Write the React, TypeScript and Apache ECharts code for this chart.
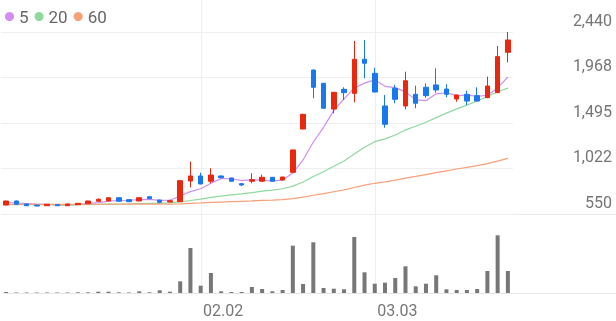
import React, { useEffect, useRef } from "react";
import * as echarts from "echarts";

const dates = [
  "01.06", "01.07", "01.08", "01.09",
  "01.12", "01.13", "01.14", "01.15", "01.16",
  "01.19", "01.20", "01.21", "01.22", "01.23",
  "01.26", "01.27", "01.28", "01.29", "01.30",
  "02.02", "02.03", "02.04", "02.05", "02.06",
  "02.09", "02.10", "02.11", "02.12", "02.13",
  "02.19", "02.20",
  "02.23", "02.24", "02.25", "02.26", "02.27",
  "03.03", "03.04", "03.05", "03.06",
  "03.09", "03.10", "03.11", "03.12", "03.13",
  "03.16", "03.17", "03.18", "03.19", "03.20",
];

const opens = [
  643, 685, 654, 643, 636, 647, 636, 647, 657, 682,
  685, 719, 699, 685, 730, 695, 675, 678, 893, 945,
  890, 945, 924, 865, 890, 890, 931, 903, 983, 1433,
  2045, 1907, 1640, 1845, 1803, 2157, 2011, 1672, 1855, 1672,
  1793, 1866, 1890, 1848, 1744, 1793, 1779, 1758, 1810, 2229,
];
const closes = [
  685, 651, 636, 633, 651, 636, 654, 661, 685, 703,
  719, 682, 678, 719, 709, 671, 688, 896, 945, 862,
  955, 927, 890, 851, 906, 931, 890, 934, 1215, 1585,
  1866, 1648, 1814, 1810, 2157, 2115, 1817, 1482, 1741, 1934,
  1700, 1779, 1838, 1793, 1786, 1723, 1723, 1879, 2184, 2357,
];
const lows = [
  640, 648, 632, 630, 633, 634, 634, 645, 655, 680,
  683, 680, 676, 683, 706, 661, 672, 676, 827, 858,
  869, 922, 887, 841, 869, 887, 887, 900, 980, 1428,
  1752, 1645, 1596, 1734, 1710, 1959, 1812, 1446, 1700, 1637,
  1648, 1758, 1810, 1762, 1716, 1682, 1720, 1754, 1806, 2125,
];
const highs = [
  688, 690, 656, 645, 654, 650, 656, 663, 688, 713,
  722, 722, 702, 722, 733, 699, 699, 899, 1093, 979,
  1025, 950, 927, 867, 973, 958, 934, 937, 1218, 1590,
  2050, 1910, 1818, 1866, 2347, 2357, 2069, 1786, 1890, 2028,
  1882, 1907, 2063, 1897, 1790, 1831, 1866, 1976, 2295, 2440,
];
const volumes = [
  100, 50, 50, 50, 50, 50, 50, 70, 70, 130,
  130, 70, 50, 170, 70, 270, 130, 1170, 4500, 730,
  2000, 170, 100, 100, 600, 400, 170, 300, 4730, 900,
  5070, 500, 430, 370, 5600, 2070, 930, 1030, 1500, 2670,
  670, 930, 1770, 370, 300, 300, 400, 2200, 5770, 2200,
];
const ma5 = [
  668, 664, 658, 652, 651, 641, 642, 647, 657, 668,
  684, 690, 693, 700, 701, 692, 693, 737, 782, 812,
  869, 917, 916, 897, 906, 901, 894, 902, 975, 1111,
  1298, 1450, 1626, 1745, 1859, 1909, 1943, 1876, 1862, 1818,
  1735, 1727, 1798, 1809, 1779, 1784, 1773, 1781, 1859, 1973,
];
const ma20 = [
  648, 648, 647, 646, 646, 645, 645, 646, 647, 649,
  652, 654, 656, 659, 661, 663, 665, 676, 690, 705,
  722, 736, 748, 759, 772, 787, 798, 812, 839, 883,
  940, 988, 1045, 1100, 1172, 1244, 1301, 1330, 1370, 1423,
  1461, 1503, 1551, 1598, 1642, 1681, 1723, 1770, 1819, 1857,
];
const ma60 = [
  650, 650, 650, 650, 650, 650, 650, 650, 651, 651,
  651, 651, 652, 652, 652, 652, 652, 656, 661, 665,
  670, 674, 678, 682, 686, 691, 695, 700, 709, 725,
  745, 762, 781, 800, 825, 850, 869, 883, 901, 923,
  940, 959, 979, 998, 1017, 1035, 1053, 1073, 1099, 1127,
];

const maNames = ["5", "20", "60"];
const yMin = 550;
const yMax = 2440;
const yInterval = 472.5;
const yTickLabels = ["550", "1,022", "1,495", "1,968", "2,440"];

const UP = "#e8290f";
const DOWN = "#1a78ee";
const MA_COLORS = ["#d18ef0", "#8fd99e", "#f7a07a"];

export default function App() {
  const ref = useRef<HTMLDivElement>(null);
  useEffect(() => {
    if (!ref.current) return;
    const chart = echarts.init(ref.current, null, { renderer: "svg" });
    const isMonthStart = (i: number) =>
      i > 0 && dates[i].slice(0, 2) !== dates[i - 1].slice(0, 2);
    const candleData = dates.map((_, i) => [opens[i], closes[i], lows[i], highs[i]]);
    const maData = [ma5, ma20, ma60];
    const hiddenCat = {
      type: "category",
      data: dates,
      axisLine: { show: false },
      axisTick: { show: false },
      axisLabel: { show: false },
      splitLine: { show: false },
    };
    const option: any = {
      animation: false,
      textStyle: { fontFamily: "Roboto" },
      legend: {
        left: 0,
        top: 3,
        icon: "circle",
        itemWidth: 9,
        itemHeight: 9,
        itemGap: 6,
        selectedMode: false,
        data: maNames,
        textStyle: { fontSize: 17, color: "#666", fontFamily: "Roboto" },
      },
      grid: [
        { left: 1, right: 103, top: 32, height: 182 },
        { left: 1, right: 103, top: 215, height: 78 },
        { left: 6.1, right: 107.4, top: 0, height: 293 },
      ],
      xAxis: [
        { ...hiddenCat, gridIndex: 0 },
        { ...hiddenCat, gridIndex: 1 },
        {
          type: "category",
          gridIndex: 2,
          data: dates,
          boundaryGap: false,
          axisLine: { show: false },
          axisTick: { show: false },
          axisLabel: {
            interval: (i: number) => isMonthStart(i),
            align: "left",
            fontSize: 16,
            color: "#777",
            margin: 9,
            padding: [0, 0, 0, 2],
            fontFamily: "Roboto",
          },
          splitLine: {
            show: true,
            interval: (i: number) => isMonthStart(i),
            lineStyle: { color: "#eeeeee", width: 1 },
          },
        },
      ],
      yAxis: [
        {
          type: "value",
          gridIndex: 0,
          position: "right",
          min: yMin,
          max: yMax,
          interval: yInterval,
          axisLine: { show: false },
          axisTick: { show: false },
          axisLabel: {
            align: "right",
            margin: 99,
            verticalAlign: "bottom",
            padding: [0, 0, 4, 0],
            fontSize: 16,
            color: "#757575",
            fontFamily: "Roboto",
            formatter: (v: number) => yTickLabels[Math.round((v - yMin) / yInterval)] ?? "",
          },
          splitLine: { show: true, lineStyle: { color: "#efefef", width: 1 } },
        },
        { type: "value", gridIndex: 1, min: 0, max: 7800, show: false },
        { type: "value", gridIndex: 2, show: false },
      ],
      series: [
        {
          type: "candlestick",
          xAxisIndex: 0,
          yAxisIndex: 0,
          data: candleData,
          barWidth: 5,
          z: 3,
          itemStyle: {
            color: UP,
            color0: DOWN,
            borderColor: UP,
            borderColor0: DOWN,
            borderWidth: 1,
          },
        },
        ...maNames.map((name, k) => ({
          name,
          type: "line",
          xAxisIndex: 0,
          yAxisIndex: 0,
          data: maData[k],
          showSymbol: false,
          symbol: "none",
          z: 2,
          color: MA_COLORS[k],
          lineStyle: { width: 1.2, color: MA_COLORS[k] },
        })),
        {
          type: "bar",
          xAxisIndex: 1,
          yAxisIndex: 1,
          data: volumes,
          barWidth: 4,
          itemStyle: { color: "#777" },
        },
      ],
      graphic: [
        {
          type: "line",
          silent: true,
          shape: { x1: 3, y1: 214.5, x2: 616, y2: 214.5 },
          style: { stroke: "#ebebeb", lineWidth: 1 },
        },
        {
          type: "line",
          silent: true,
          shape: { x1: 3, y1: 293.5, x2: 616, y2: 293.5 },
          style: { stroke: "#e6e6e6", lineWidth: 1 },
        },
      ],
    };
    chart.setOption(option);
    return () => chart.dispose();
  }, []);
  return (
    <div
      ref={ref}
      style={{ position: "fixed", left: 0, top: 0, width: 616, height: 321 }}
    />
  );
}
